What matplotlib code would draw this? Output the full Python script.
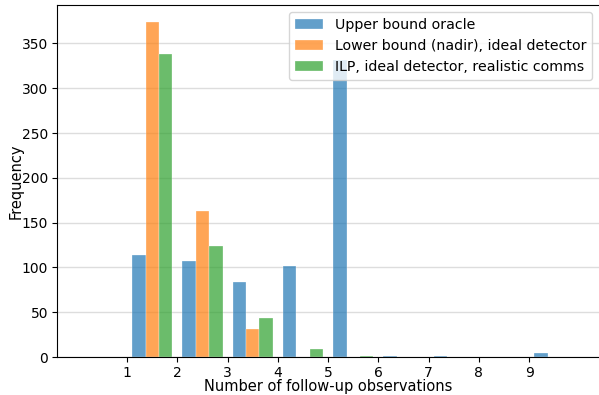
import numpy as np
import matplotlib
matplotlib.use("Agg")
import matplotlib.pyplot as plt

# follow-up observation counts (bin = number of observations)
BINS = list(range(0, 11))
obs = np.arange(0, 10)
upper_oracle = [0, 114, 107, 84, 102, 331, 1, 1, 0, 4]
lower_nadir = [0, 374, 163, 31, 0, 0, 0, 0, 0, 0]
ilp_realistic = [0, 338, 124, 44, 9, 1, 0, 0, 0, 0]
LABELS = ["Upper bound oracle",
          "Lower bound (nadir), ideal detector",
          "ILP, ideal detector, realistic comms"]
XTICKS = list(range(1, 10))

fig = plt.figure(figsize=(5.99, 3.95), dpi=100)
ax = fig.add_axes([0.0957, 0.096, 0.9043, 0.891])

ax.hist([obs, obs, obs], bins=BINS,
        weights=[upper_oracle, lower_nadir, ilp_realistic],
        color=["#1f77b4", "#ff7f0e", "#2ca02c"], alpha=0.7,
        edgecolor="#ffffff80", linewidth=0.3, label=LABELS, zorder=2)

ax.set_xticks(XTICKS)
ax.grid(axis="y", color="#dddddd", lw=1.0, zorder=0)
ax.set_axisbelow(True)
ax.spines["right"].set_visible(False)
ax.tick_params(labelsize=10, pad=3)
ax.set_xlabel("Number of follow-up observations", fontsize=10.5, labelpad=-1)
ax.set_ylabel("Frequency", fontsize=10.5, labelpad=-1)
ax.legend(loc="upper right", fontsize=10.2, framealpha=0.8)

fig.savefig("out.png", dpi=100)
